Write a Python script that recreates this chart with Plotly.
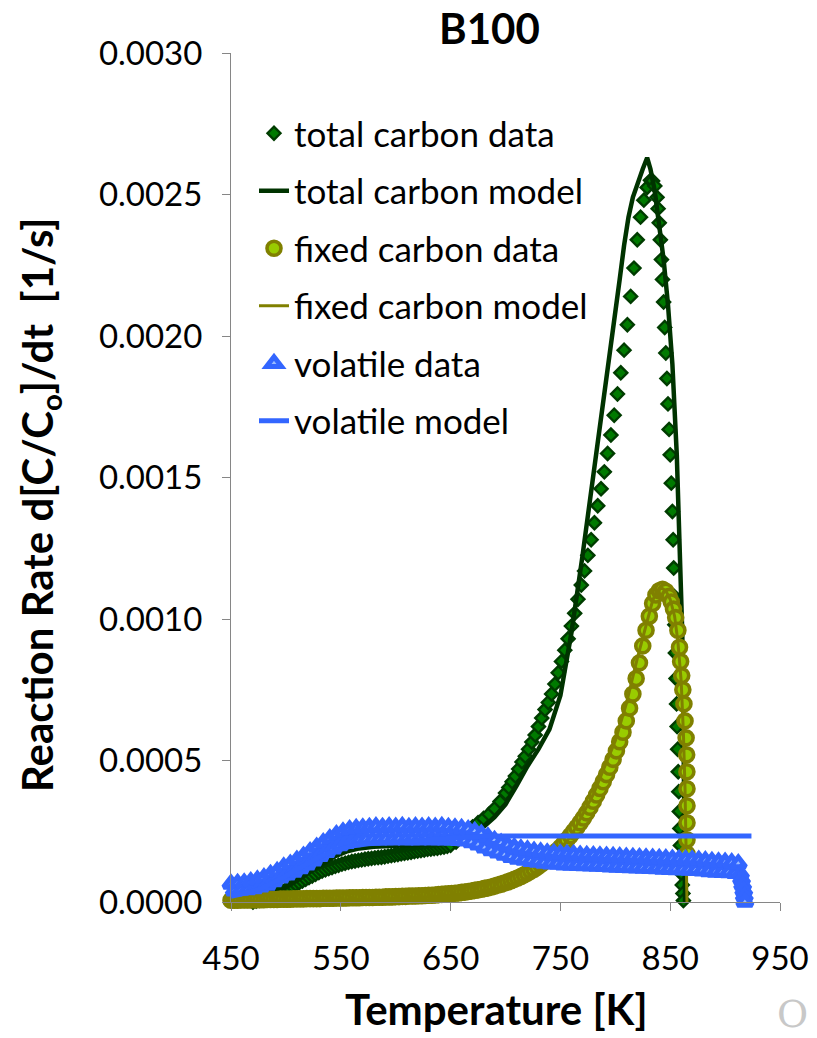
import plotly.graph_objects as go

# ---------------- data (rates in 1e-6 1/s) ----------------
# total carbon data
tcd_T = [470, 473, 476, 479, 482, 485, 488, 491, 494, 497, 500, 503, 506, 509, 512, 515, 518, 521, 524, 527,
         530, 533, 536, 539, 542, 545, 548, 551, 554, 557, 560, 563, 566, 569, 572, 575, 578, 581, 584, 587,
         590, 593, 596, 599, 602, 605, 608, 611, 614, 617, 620, 623, 626, 629, 632, 635, 638, 641, 644, 647,
         650, 655, 660, 665, 670, 675, 680, 685, 690, 695, 700, 703, 706, 709, 712, 715, 718, 721, 724, 727,
         730, 733, 736, 739, 742, 745, 748, 751, 754, 757, 760, 763, 766, 769, 772, 775, 778, 781, 784, 787,
         790, 793, 796, 799, 802, 805, 808, 811, 814, 817, 820, 823, 826, 829, 832, 834, 836, 838, 839, 840,
         841, 842, 843, 844, 845, 846, 847, 848, 849, 850, 851, 852, 852.7, 853.2, 853.7, 854.2, 854.7, 855.3,
         855.8, 856.3, 856.8, 857.3, 857.8, 858.3, 858.8, 859.3, 859.8, 860.4, 861, 861.6, 862]
tcd_r = [0, 3, 6, 9, 13, 17, 22, 27, 32, 38, 44, 50, 56, 62, 68, 74, 80, 86, 92, 98,
         104, 109, 114, 118, 122, 126, 130, 134, 137, 140, 143, 145, 147, 149, 151, 153, 154, 156, 157, 158,
         160, 162, 164, 166, 168, 170, 172, 174, 176, 178, 180, 182, 184, 186, 187, 189, 190, 192, 194, 197,
         200, 212, 228, 245, 265, 280, 295, 310, 330, 355, 385, 405, 425, 445, 470, 495, 515, 540, 565, 590,
         620, 650, 680, 705, 735, 770, 810, 850, 890, 930, 975, 1020, 1070, 1120, 1170, 1225, 1280, 1340, 1400, 1460,
         1520, 1585, 1650, 1720, 1795, 1870, 1950, 2040, 2140, 2240, 2340, 2420, 2480, 2525, 2550, 2548, 2530, 2490, 2450, 2400,
         2340, 2270, 2200, 2120, 2030, 1940, 1850, 1760, 1670, 1580, 1480, 1380, 1280, 1180, 1080, 980, 880, 790,
         700, 620, 540, 460, 390, 320, 260, 200, 150, 100, 60, 30, 5]

# total carbon model
tcm_T = [450, 465, 475, 485, 495, 505, 515, 525, 535, 545, 555, 565, 580, 600, 620, 640, 655, 670, 680, 690,
         700, 710, 720, 730, 740, 750, 760, 770, 780, 783, 790, 795, 800, 804, 808, 812, 816, 820, 825, 829,
         832, 836, 840, 844, 848, 852, 856, 859, 861, 862, 862.5, 863, 863.5]
tcm_r = [0, 3, 10, 22, 40, 62, 88, 115, 140, 162, 178, 188, 195, 198, 202, 208, 218, 240, 265, 300,
         345, 410, 480, 540, 610, 730, 950, 1220, 1500, 1590, 1800, 1940, 2080, 2200, 2320, 2420, 2490, 2540, 2590, 2630,
         2590, 2510, 2400, 2270, 2110, 1900, 1580, 1250, 950, 650, 350, 100, 0]

# fixed carbon data
fcd_T = [450, 453, 456, 459, 462, 465, 468, 471, 474, 477, 480, 483, 486, 489, 492, 495, 498, 501, 504, 507,
         510, 513, 516, 519, 522, 525, 528, 531, 534, 537, 540, 543, 546, 549, 552, 555, 558, 561, 564, 567,
         570, 573, 576, 579, 582, 585, 588, 591, 594, 597, 600, 603, 606, 609, 612, 615, 618, 621, 624, 627,
         630, 633, 636, 639, 642, 645, 648, 651, 654, 657, 660, 663, 666, 669, 672, 675, 678, 681, 684, 687,
         690, 693, 696, 699, 702, 705, 708, 711, 714, 717, 720, 723, 726, 729, 732, 735, 738, 741, 744, 747,
         750, 753, 756, 759, 762, 765, 768, 771, 774, 777, 780, 783, 786, 789, 792, 795, 798, 801, 804, 807,
         810, 813, 816, 819, 822, 825, 828, 831, 834, 837, 840, 843, 846, 849, 851, 853, 855, 857, 858.5, 859.5,
         860.5, 861.5, 862.5, 863.5, 864.5, 865, 865.2, 865.3, 865.3, 865.3, 865.3, 865.3, 865.3]
fcd_r = [6, 6, 6, 7, 7, 7, 7, 8, 8, 8, 8, 9, 9, 9, 9, 10, 10, 10, 10, 11,
         11, 11, 11, 12, 12, 12, 12, 12, 13, 13, 13, 13, 14, 14, 14, 14, 15, 15, 15, 15,
         16, 16, 16, 16, 17, 17, 17, 18, 18, 18, 19, 19, 20, 20, 21, 21, 21, 22, 22, 23,
         24, 24, 25, 26, 27, 28, 29, 30, 31, 32, 34, 35, 37, 39, 41, 43, 45, 48, 50, 53,
         56, 60, 63, 67, 71, 75, 80, 85, 90, 96, 102, 109, 116, 124, 132, 141, 150, 160, 170, 181,
         193, 206, 220, 234, 249, 264, 280, 297, 315, 335, 356, 378, 401, 425, 450, 476, 504, 534, 566, 600,
         640, 685, 735, 790, 845, 905, 960, 1010, 1055, 1085, 1100, 1105, 1098, 1080, 1060, 1035, 1005, 960, 900, 850,
         800, 750, 700, 640, 580, 520, 460, 400, 340, 280, 220, 170, 130]

# fixed carbon model
fcm_T = [450, 500, 550, 600, 640, 670, 700, 720, 740, 760, 780, 800, 810, 820, 828, 834, 838, 842, 846, 850,
         854, 857, 860, 862, 863.5, 864.5, 865, 865.3]
fcm_r = [0, 3, 7, 12, 20, 32, 55, 85, 140, 235, 380, 570, 700, 860, 980, 1065, 1100, 1110, 1100, 1070,
         1010, 920, 780, 600, 400, 200, 50, 0]

# volatile data
vd_T = [450, 453, 456, 459, 462, 465, 468, 471, 474, 477, 480, 483, 486, 489, 492, 495, 498, 501, 504, 507,
        510, 513, 516, 519, 522, 525, 528, 531, 534, 537, 540, 543, 546, 549, 552, 555, 558, 561, 564, 567,
        570, 573, 576, 579, 582, 585, 588, 591, 594, 597, 600, 603, 606, 609, 612, 615, 618, 621, 624, 627,
        630, 633, 636, 639, 642, 645, 648, 651, 654, 657, 660, 663, 666, 669, 672, 675, 678, 681, 684, 687,
        690, 693, 696, 699, 702, 705, 708, 711, 714, 717, 720, 723, 726, 729, 732, 735, 738, 741, 744, 747,
        750, 753, 756, 759, 762, 765, 768, 771, 774, 777, 780, 783, 786, 789, 792, 795, 798, 801, 804, 807,
        810, 813, 816, 819, 822, 825, 828, 831, 834, 837, 840, 843, 846, 849, 852, 855, 858, 861, 864, 867,
        870, 873, 876, 879, 882, 885, 888, 891, 894, 897, 900, 903, 906, 909, 912, 914, 915, 916, 917, 917.5, 918]
vd_r = [64, 40, 66, 42, 68, 44, 72, 48, 78, 54, 86, 60, 98, 72, 108, 86, 124, 96, 134, 106,
        148, 118, 162, 132, 178, 146, 194, 162, 210, 176, 224, 188, 238, 200, 248, 208, 256, 214, 260, 218,
        262, 220, 264, 220, 266, 220, 264, 221, 266, 220, 265, 222, 267, 220, 264, 221, 266, 220, 265, 222,
        266, 220, 265, 221, 267, 220, 264, 220, 262, 218, 260, 216, 256, 210, 250, 202, 240, 192, 230, 182,
        218, 174, 208, 166, 200, 158, 193, 152, 188, 148, 184, 144, 180, 141, 177, 138, 174, 135, 172, 134,
        170, 132, 169, 131, 168, 130, 166, 129, 165, 128, 164, 127, 163, 126, 162, 125, 161, 124, 160, 123,
        159, 122, 158, 121, 157, 120, 156, 119, 155, 118, 154, 117, 153, 116, 152, 115, 151, 114, 150, 113,
        149, 112, 148, 110, 146, 108, 144, 106, 142, 105, 141, 104, 139, 102, 136, 100, 80, 60, 40, 20, 0]

# volatile model
vm_T = [450, 460, 470, 480, 490, 500, 510, 520, 530, 540, 550, 560, 575, 590, 610, 630, 650, 665, 680, 700, 924]
vm_r = [20, 28, 38, 52, 70, 92, 115, 138, 158, 175, 188, 198, 206, 211, 216, 220, 225, 229, 232, 233, 233]

x_ticks = [450, 550, 650, 750, 850, 950]
y_ticks = [0, 0.0005, 0.0010, 0.0015, 0.0020, 0.0025, 0.0030]


def sc(v):
    return [x * 1e-6 for x in v]


FONT = "Lato, 'Open Sans', sans-serif"

L, R, T, B = 231, 780, 53, 902
W, H = 817, 1038


def px(xp):
    return (xp - L) / (R - L)


def py(yp):
    return (B - yp) / (B - T)


fig = go.Figure()
fig.add_trace(go.Scatter(x=tcd_T, y=sc(tcd_r), mode="markers", name="total carbon data", legendgroup="a",
                         marker=dict(symbol="diamond", size=10, color="#007a00",
                                     line=dict(color="#003c00", width=2.4)), cliponaxis=False))
fig.add_trace(go.Scatter(x=tcm_T, y=sc(tcm_r), mode="lines", name="total carbon model", legendgroup="b",
                         line=dict(color="#003300", width=4.5), cliponaxis=False))
fig.add_trace(go.Scatter(x=fcd_T, y=sc(fcd_r), mode="markers", name="fixed carbon data", legendgroup="c",
                         marker=dict(symbol="circle", size=14, color="#99cc00",
                                     line=dict(color="#808000", width=3.6)), cliponaxis=False))
fig.add_trace(go.Scatter(x=fcm_T, y=sc(fcm_r), mode="lines", name="fixed carbon model", legendgroup="d",
                         line=dict(color="#808000", width=3), cliponaxis=False))
fig.add_trace(go.Scatter(x=vd_T, y=sc(vd_r), mode="markers", name="volatile data", legendgroup="e",
                         marker=dict(symbol="triangle-up", size=13, color="#99bbff",
                                     line=dict(color="#3366ff", width=5)), cliponaxis=False))
fig.add_trace(go.Scatter(x=vm_T, y=sc(vm_r), mode="lines", name="volatile model", legendgroup="f",
                         line=dict(color="#3366ff", width=5), cliponaxis=False))

fig.update_layout(
    width=W, height=H,
    margin=dict(l=L, r=W - R, t=T, b=H - B, autoexpand=False),
    paper_bgcolor="white", plot_bgcolor="white",
    font=dict(family=FONT, color="black"),
    showlegend=True,
    legend=dict(x=px(254), y=py(104), xanchor="left", yanchor="top",
                font=dict(size=35, family=FONT), traceorder="grouped", tracegroupgap=9,
                bgcolor="rgba(0,0,0,0)"),
    xaxis=dict(range=[450, 950], tickvals=x_ticks, ticktext=[str(v) for v in x_ticks],
               showgrid=False, zeroline=False, showline=True, linecolor="#868686", linewidth=1,
               ticks="outside", ticklen=8, tickcolor="#868686",
               tickfont=dict(size=33, family=FONT), ticklabelstandoff=19),
    yaxis=dict(range=[0, 0.003], tickvals=y_ticks, ticktext=["%.4f" % v for v in y_ticks],
               showgrid=False, zeroline=False, showline=True, linecolor="#868686", linewidth=1,
               ticks="outside", ticklen=8, tickcolor="#868686",
               tickfont=dict(size=33, family=FONT), ticklabelstandoff=13),
    annotations=[
        dict(text="<b>B100</b>", x=px(489), y=py(28), xref="paper", yref="paper",
             showarrow=False, font=dict(size=42, family=FONT), xanchor="center", yanchor="middle"),
        dict(text="<b>Temperature [K]</b>", x=px(496), y=py(1009), xref="paper", yref="paper",
             showarrow=False, font=dict(size=42, family=FONT), xanchor="center", yanchor="middle"),
        dict(text="<b>Reaction Rate d[C/C<sub>o</sub>]/dt  [1/s]</b>", x=px(40), y=py(505),
             xref="paper", yref="paper", textangle=-90,
             showarrow=False, font=dict(size=42, family=FONT), xanchor="center", yanchor="middle"),
        dict(text="O", x=px(792), y=py(1014), xref="paper", yref="paper",
             showarrow=False, font=dict(size=38, family="'DejaVu Serif', serif", color="#c8c8c8"),
             xanchor="center", yanchor="middle"),
    ],
)

fig.write_html("out.html")
